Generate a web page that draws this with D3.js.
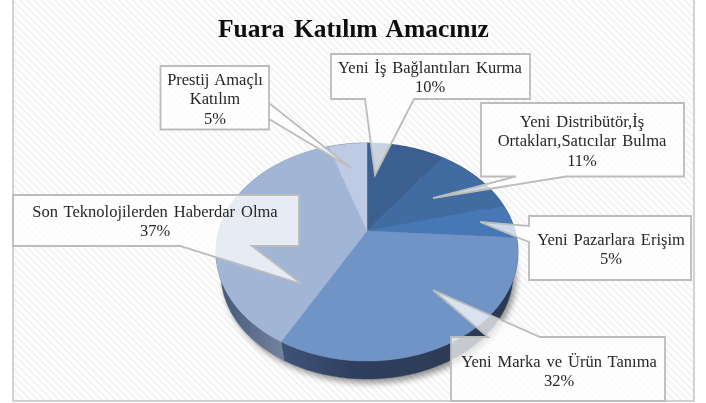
<!DOCTYPE html>
<html><head><meta charset="utf-8">
<script src="https://cdn.jsdelivr.net/npm/d3@7"></script>
<style>html,body{margin:0;padding:0;background:#fff}svg{display:block}</style>
</head><body><svg id="c" width="706" height="403"></svg>
<script>
const titleText = "Fuara Katılım Amacınız";
const categories = ["Yeni İş Bağlantıları Kurma","Yeni Distribütör,İş Ortakları,Satıcılar Bulma","Yeni Pazarlara Erişim","Yeni Marka ve Ürün Tanıma","Son Teknolojilerden Haberdar Olma","Prestij Amaçlı Katılım"];
const values = [10,11,5,32,37,5];
const labelLines = [["Yeni İş Bağlantıları Kurma"],["Yeni Distribütör,İş","Ortakları,Satıcılar Bulma"],["Yeni Pazarlara Erişim"],["Yeni Marka ve Ürün Tanıma"],["Son Teknolojilerden Haberdar Olma"],["Prestij Amaçlı","Katılım"]];
const sliceColors = ["#3A5F8E","#3F6CA2","#4677B5","#7094C6","#A1B6D7","#BFCBE4"];

// layout (separate from the data)
const W=706,H=403, frame={x:13,y:-3,w:681,h:404};
const apex={x:367,y:231}, A=148.2, B=105, k=0.1927;
const topE={cy:252,rx:151,ry:109}, botE={cy:274,rx:146,ry:105};
const callouts=[
 {box:[331,54,530,99],ptr:[[414,99],[375,175],[365,99]],cx:430,y:68},
 {box:[481,103,684,176.5],ptr:[[566,176.5],[433,198],[516,176.5]],cx:582,y:122},
 {box:[529,216,691,280],ptr:[[529,242],[480,222],[529,226]],cx:611,y:240},
 {box:[451,337,665,401],ptr:[[488,337],[433,290],[540,337]],cx:559,y:362},
 {box:[13,195,299,246],ptr:[[252,246],[302,284],[180,246]],cx:155,y:212},
 {box:[160.5,66,269,129.5],ptr:[[269,119],[351,168],[269,103]],cx:215,y:80}
];
const lineH=19.3;

const svg=d3.select("#c");
const defs=svg.append("defs");
const pat=defs.append("pattern").attr("id","hatch").attr("width",5).attr("height",5)
  .attr("patternUnits","userSpaceOnUse").attr("patternTransform","rotate(45)");
pat.append("rect").attr("width",5).attr("height",5).attr("fill","#fff");
pat.append("rect").attr("width",5).attr("height",2.2).attr("fill","#f3f3f3");
defs.append("filter").attr("id","sh").attr("x","-20%").attr("y","-20%").attr("width","140%").attr("height","140%")
  .append("feGaussianBlur").attr("stdDeviation",3.2);
defs.append("filter").attr("id","soft").append("feGaussianBlur").attr("stdDeviation",0.4);

function grad(id,x1,x2,stops){
  const g=defs.append("linearGradient").attr("id",id).attr("gradientUnits","userSpaceOnUse")
    .attr("x1",x1).attr("x2",x2).attr("y1",0).attr("y2",0);
  stops.forEach(s=>g.append("stop").attr("offset",s[0]).attr("stop-color",s[1]));
}
grad("rimL",222,288,[[0,"#46587A"],[0.45,"#5C6E8E"],[1,"#76869F"]]);
grad("rimR",283,520,[[0,"#3E5378"],[0.3,"#2F3F5E"],[1,"#2B3850"]]);

// perspective projection of a pie angle onto the tilted disc
const proj=t=>{const u=Math.sin(t),v=Math.cos(t),d=1+k*v;
  return [apex.x+A*u/d, apex.y-B*v/d];};
// the same angle on the smaller, lower edge of the disc
const projBot=t=>{const [x,y]=proj(t);
  return [apex.x+(x-apex.x)*botE.rx/topE.rx, botE.cy+(y-topE.cy)*botE.ry/topE.ry];};
const line=d3.line();
const arcPts=(a,b,f=proj)=>{const n=Math.max(8,Math.ceil((b-a)*60));
  return d3.range(n+1).map(i=>f(a+(b-a)*i/n));};

const arcs=d3.pie().sort(null)(values);
const color=d3.scaleOrdinal().domain(categories).range(sliceColors);

const root=svg.append("g").attr("filter","url(#soft)");
root.append("rect").attr("x",frame.x).attr("y",frame.y).attr("width",frame.w).attr("height",frame.h)
  .attr("fill","url(#hatch)").attr("stroke","#d2d2d2").attr("stroke-width",2);

// soft shadow
root.append("path").attr("d",line(arcPts(0,2*Math.PI,projBot))+"Z").attr("fill","#000").attr("opacity",.42)
  .attr("transform","translate(3,4)").attr("filter","url(#sh)");

// rim
const rimFill=i=>i===4?"url(#rimL)":i===3?"url(#rimR)":"#2B3850";
root.append("g").selectAll("path").data(arcs).join("path")
  .attr("d",d=>line(arcPts(d.startAngle,d.endAngle).concat(arcPts(d.startAngle,d.endAngle,projBot).reverse()))+"Z")
  .attr("fill",(d,i)=>rimFill(i)).attr("stroke",(d,i)=>rimFill(i)).attr("stroke-width",.4);

// top face
root.append("g").selectAll("path").data(arcs).join("path")
  .attr("d",d=>line([[apex.x,apex.y]].concat(arcPts(d.startAngle,d.endAngle)))+"Z")
  .attr("fill",(d,i)=>color(categories[i])).attr("stroke",(d,i)=>color(categories[i])).attr("stroke-width",.4);

// callouts
const cg=root.append("g").selectAll("g").data(arcs).join("g");
cg.append("path").attr("d",(d,i)=>{
    const c=callouts[i],[x0,y0,x1,y1]=c.box,p=c.ptr;
    const corners=[[x0,y0],[x1,y0],[x1,y1],[x0,y1]];
    const pts=[];
    const side=p[0][1]===y0?0:p[0][0]===x1?1:p[0][1]===y1?2:3;
    corners.forEach((q,j)=>{pts.push(q); if(j===side) pts.push(...p);});
    return line(pts)+"Z";
  })
  .attr("fill","#fff").attr("fill-opacity",.73).attr("stroke","#bcbcbc").attr("stroke-width",1.8).attr("stroke-linejoin","miter");

const txt=cg.append("text").attr("text-anchor","middle").attr("fill","#262626")
  .style("font-family","'Liberation Serif',serif").style("font-size","16.5px").style("word-spacing","1.8px");
txt.selectAll("tspan").data((d,i)=>labelLines[i].concat([d3.format(".0f")(values[i])+"%"]).map((s,j)=>({s,j,i})))
  .join("tspan").attr("x",d=>callouts[d.i].cx).attr("y",d=>callouts[d.i].y+d.j*lineH+5).text(d=>d.s);

root.append("text").attr("x",353.5).attr("y",37).attr("text-anchor","middle").attr("fill","#111")
  .style("font-family","'Liberation Serif',serif").style("font-weight","bold").style("font-size","25.5px").style("word-spacing","3px")
  .text(titleText);
</script></body></html>
